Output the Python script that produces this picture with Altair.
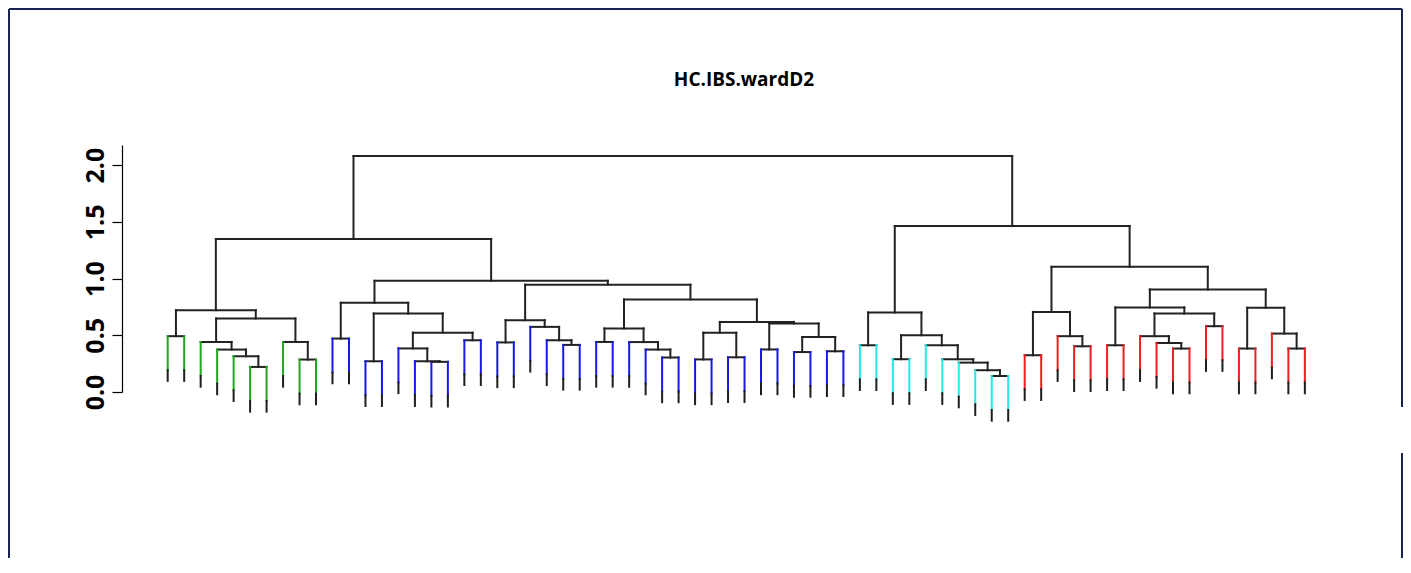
import altair as alt
import pandas as pd

TITLE = "HC.IBS.wardD2"

# Merge table of the Ward.D2 tree. Integers are leaves (1..70, left to right);
merge_names = [
    # green cluster
    "B", "G", "F", "E", "D", "I", "H", "C", "A",
    # blue cluster
    "J", "M", "Q", "P", "O", "R", "N", "K", "N375",
    "U", "X", "W", "V", "T",
    "AA", "AD", "AC", "AB", "Z",
    "AG", "AH", "AF", "AJ", "AL", "AM", "AK", "AI", "AE", "Y", "N608", "N491",
    "LEFT",
    # cyan cluster
    "CB", "CD", "CI", "CH", "CG", "CF", "CE", "CC", "CA",
    # red cluster
    "RB", "RD", "RC", "RA", "RG", "RK", "RJ", "RI", "RL", "RH", "RF",
    "RN", "RP", "RO", "RM", "RE", "RED",
    "RIGHT", "ROOT",
]
merge_left = [
    1, 6, 5, 4, 3, 9, 8, "D", "B",
    11, 13, 17, 16, 15, 19, "O", "M", "J",
    21, 25, 24, 23, "U",
    27, 31, 30, 29, "AA",
    33, 35, "AG", 37, 39, 41, "AL", "AJ", "AF", "Z", "T", "N375",
    "A",
    43, 45, 51, 50, 49, 48, 47, "CD", "CB",
    53, 56, 55, "RB", 58, 62, 61, 60, 64, "RI", "RG",
    66, 69, 68, "RN", "RF", "RA",
    "CA", "LEFT",
]
merge_right = [
    2, 7, "G", "F", "E", 10, "I", "H", "C",
    12, 14, 18, "Q", "P", 20, "R", "N", "K",
    22, 26, "X", "W", "V",
    28, 32, "AD", "AC", "AB",
    34, 36, "AH", 38, 40, 42, "AM", "AK", "AI", "AE", "Y", "N608",
    "N491",
    44, 46, 52, "CI", "CH", "CG", "CF", "CE", "CC",
    54, 57, "RD", "RC", 59, 63, "RK", "RJ", 65, "RL", "RH",
    67, 70, "RP", "RO", "RM", "RE",
    "RED", "RIGHT",
]
merge_height = [
    0.492, 0.221, 0.315, 0.374, 0.441, 0.286, 0.441, 0.648, 0.721,
    0.471, 0.271, 0.266, 0.271, 0.384, 0.456, 0.523, 0.692, 0.786,
    0.437, 0.415, 0.456, 0.574, 0.633,
    0.441, 0.304, 0.374, 0.440, 0.560,
    0.287, 0.306, 0.523, 0.375, 0.352, 0.359, 0.485, 0.604, 0.618, 0.816, 0.946, 0.980,
    1.348,
    0.412, 0.289, 0.141, 0.192, 0.259, 0.289, 0.412, 0.500, 0.701,
    0.324, 0.403, 0.492, 0.706, 0.412, 0.383, 0.432, 0.492, 0.580, 0.692, 0.745,
    0.383, 0.383, 0.515, 0.743, 0.904, 1.103,
    1.462, 2.080,
]

cluster_names = ["k1", "k2", "k3", "k4"]
cluster_sizes = [10, 32, 10, 18]
cluster_colors = ["#1fa81f", "#1818ee", "#22eaea", "#ee1e1e"]

y_ticks = [0.0, 0.5, 1.0, 1.5, 2.0]

HANG = 0.30   # coloured leaf drop below its merge
TIP = 0.094   # dark leaf end

# ---- build segments from the merge table ----
nodes = {n: (l, r, h) for n, l, r, h in zip(merge_names, merge_left, merge_right, merge_height)}

leaf_cluster = {}
k = 1
for name, size in zip(cluster_names, cluster_sizes):
    for _ in range(size):
        leaf_cluster[k] = name
        k += 1


def xpos(c):
    if isinstance(c, int):
        return float(c)
    l, r, _ = nodes[c]
    return (xpos(l) + xpos(r)) / 2.0


rows = []
for n, (l, r, h) in nodes.items():
    rows.append(dict(x=xpos(l), x2=xpos(r), y=h, y2=h, grp="edge"))
    for c in (l, r):
        if isinstance(c, int):
            rows.append(dict(x=float(c), x2=float(c), y=h, y2=h - HANG, grp=leaf_cluster[c]))
            rows.append(dict(x=float(c), x2=float(c), y=h - HANG, y2=h - HANG - TIP, grp="tip"))
        else:
            rows.append(dict(x=xpos(c), x2=xpos(c), y=h, y2=nodes[c][2], grp="edge"))

df = pd.DataFrame(rows)

W, H = 1244, 247

tree = alt.Chart(df).mark_rule(strokeWidth=2, strokeCap="square").encode(
    x=alt.X("x:Q", scale=alt.Scale(domain=[-1.773, 73.71], nice=False, zero=False), axis=None),
    x2="x2:Q",
    y=alt.Y(
        "y:Q",
        scale=alt.Scale(domain=[0, 2.177], nice=False, zero=False),
        axis=alt.Axis(
            values=y_ticks, format=".1f", title=None, grid=False,
            labelAngle=270, labelFontSize=25, labelFont="Open Sans", labelFontWeight=700,
            labelColor="black", labelPadding=4, tickSize=10, tickColor="black",
            tickWidth=1.2, domainColor="black", domainWidth=1.2,
        ),
    ),
    y2="y2:Q",
    color=alt.Color(
        "grp:N",
        scale=alt.Scale(domain=["edge", "tip"] + cluster_names,
                        range=["#222222", "#1e1e1e"] + cluster_colors),
        legend=None,
    ),
)

frame_df = pd.DataFrame({"a": [0]})
FRAME = "#1b2356"
frame_top = alt.Chart(frame_df).mark_rule(color=FRAME, strokeWidth=2).encode(
    x=alt.value(-113), x2=alt.value(1280), y=alt.value(-136))
frame_left = alt.Chart(frame_df).mark_rule(color=FRAME, strokeWidth=2).encode(
    x=alt.value(-113), y=alt.value(-136), y2=alt.value(430))
frame_right1 = alt.Chart(frame_df).mark_rule(color=FRAME, strokeWidth=2).encode(
    x=alt.value(1280), y=alt.value(-136), y2=alt.value(262))
frame_right2 = alt.Chart(frame_df).mark_rule(color=FRAME, strokeWidth=2).encode(
    x=alt.value(1280), y=alt.value(308), y2=alt.value(430))

chart = alt.layer(frame_top, frame_left, frame_right1, frame_right2, tree).properties(
    width=W, height=H,
    autosize=alt.AutoSizeParams(type="none"),
    padding={"left": 114, "top": 137, "right": 37, "bottom": 166},
    title=alt.TitleParams(TITLE, anchor="middle", frame="group", offset=-82,
                          fontSize=19, font="Open Sans", fontWeight=700, color="black"),
).configure_view(stroke="transparent")

chart.save("out.html", embed_options={"renderer": "svg", "actions": False})
